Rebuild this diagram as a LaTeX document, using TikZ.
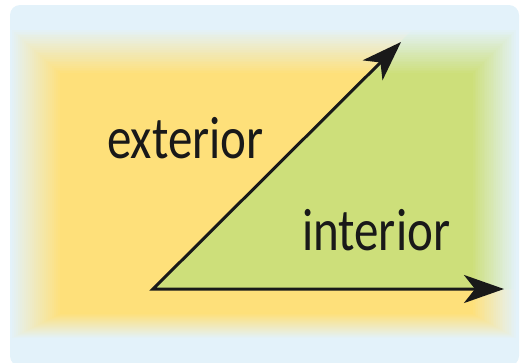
\documentclass[tikz,border=0pt]{standalone}
\usepackage{fontspec}
\setmainfont{Carlito}
\usetikzlibrary{arrows.meta}
\definecolor{paleblue}{HTML}{E3F2FA}
\definecolor{warmyellow}{HTML}{FEE07A}
\definecolor{leafgreen}{HTML}{CDDF7A}
\tikzset{raytip/.tip={Stealth[length=40bp, width=28bp, inset=11bp]}}
\begin{document}
\begin{tikzpicture}[x=1bp, y=-1bp,
    ray/.style={line width=3bp, line join=miter, draw=black!90},
    word/.style={anchor=base west, inner sep=0pt, xscale=0.82,
                 font=\fontsize{60}{62}\selectfont, text=black!90}]
    \useasboundingbox (0,0) rectangle (527,362);

    % Pale blue card behind everything
    \fill[paleblue, rounded corners=10bp] (10,5) rectangle (519,366);

    % Soft-edged yellow field (exterior)
    \foreach \i in {0,...,24} {
        \pgfmathtruncatemacro{\p}{4*(\i+1)}
        \fill[warmyellow!\p!paleblue]
            (12+2.0*\i,30+1.8*\i) rectangle (516-1.8*\i,338-1.0*\i);
    }

    % Corner of the angle
    \coordinate (vertex) at (153,289);
    \coordinate (uptip)  at (401,42);
    \coordinate (sidetip) at (504,289);

    % Soft-edged green field (interior), cut along both rays
    \begin{scope}
        \clip (vertex) -- (443,0) -- (527,0) -- (527,289) -- cycle;
        \foreach \i in {0,...,24} {
            \pgfmathtruncatemacro{\p}{4*(\i+1)}
            \fill[leafgreen!\p!paleblue]
                (12+2.0*\i,30+1.8*\i) rectangle (516-1.8*\i,338-1.0*\i);
        }
    \end{scope}

    % The two rays
    \draw[ray, raytip-raytip] (uptip) -- (vertex) -- (sidetip);

    % Labels
    \node[word] (exterior) at (107,158) {exterior};
    \node[word] (interior) at (302,250) {interior};
\end{tikzpicture}
\end{document}
